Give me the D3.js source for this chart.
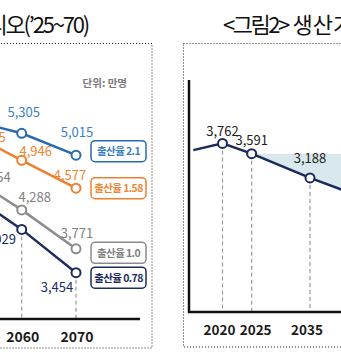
<!DOCTYPE html>
<html>
<head>
<meta charset="utf-8">
<script src="https://cdn.jsdelivr.net/npm/d3@7"></script>
<style>
    html, body { margin: 0; padding: 0; background: #fff; }
    svg { display: block; }
    text { font-family: 'Noto Sans CJK KR', 'Noto Sans', sans-serif; }
</style>
</head>
<body>
<svg id="main" width="341" height="360"></svg>
<script>
const width = 341;
const height = 360;

// 왼쪽: 출산율 시나리오별 총인구 (만명)
const leftYears = [2050, 2060, 2070];
const birthRates = ['2.1', '1.58', '1.0', '0.78'];
const popTfr21 = [5490, 5305, 5015];
const popTfr158 = [5325, 4946, 4577];
const popTfr10 = [4754, 4288, 3771];
const popTfr078 = [4525, 4029, 3454];

// 오른쪽: 생산가능인구 (만명)
const workYears = [2015, 2020, 2025, 2035, 2045];
const workPop = [3650, 3762, 3591, 3188, 2830];
const workTicks = [2020, 2025, 2035];

const leftTitle = '<그림1> 출산율 시나리오(\u201925~70)';
const rightTitleHead = '<그림2>';
const rightTitleBody = ' 생산가능인구 전망';
const unitText = '단위: 만명';

const seriesColor = ['#2a6bad', '#ee7f2d', '#8c8c8c', '#1d2c5e'];
const labelColor = ['#3b80c2', '#ef8632', '#808080', '#1d2c5e'];
// label offsets per point (dx, dy)
const labelOffset = [
    [[2, -16], [2, -16], [1, -18]],
    [[22, 10], [14, -4], [-6, -8]],
    [[27, 7], [13, -8], [1, -11]],
    [[-22, 15], [-22, 15], [-19, 19]]
];
const boxOffset = [-4, 0, 4, 5];

const fmt = d3.format(',');
const svg = d3.select('#main');
svg.append('rect').attr('width', width).attr('height', height).attr('fill', '#fff');

// ---------- left panel ----------
const left = svg.append('g');
const xLeft = d3.scaleLinear().domain([2060, 2070]).range([21.7, 76]);
const yLeft = d3.scaleLinear().domain([3454, 5305]).range([272.7, 133.3]);
const axisLeftY = 319;

left.append('text')
    .attr('x', 88).attr('y', 33)
    .attr('text-anchor', 'end')
    .attr('font-size', 22)
    .attr('letter-spacing', -2.2)
    .attr('fill', '#111')
    .text(leftTitle);

left.append('rect')
    .attr('x', -20).attr('y', 43.5)
    .attr('width', 172).attr('height', 304.5)
    .attr('fill', 'none')
    .attr('stroke', '#222')
    .attr('stroke-dasharray', '1,2');

left.append('text')
    .attr('x', 127).attr('y', 87)
    .attr('text-anchor', 'end')
    .attr('font-size', 10.5)
    .attr('font-weight', 'bold')
    .attr('fill', '#7a7a7a')
    .text(unitText);

const leftSeries = [popTfr21, popTfr158, popTfr10, popTfr078].map((vals, i) => ({
    rate: birthRates[i],
    color: seriesColor[i],
    labelColor: labelColor[i],
    points: vals.map((v, j) => ({ year: leftYears[j], value: v, off: labelOffset[i][j] }))
}));

// dashed drop lines from lowest scenario
left.selectAll('.drop')
    .data(leftYears.slice(1))
    .join('line')
    .attr('class', 'drop')
    .attr('x1', d => xLeft(d)).attr('x2', d => xLeft(d))
    .attr('y1', (d, i) => yLeft(popTfr078[i + 1]))
    .attr('y2', axisLeftY)
    .attr('stroke', '#9a9a9a')
    .attr('stroke-width', 1.2)
    .attr('stroke-dasharray', '4,3');

left.append('line')
    .attr('x1', -5).attr('x2', 140)
    .attr('y1', axisLeftY).attr('y2', axisLeftY)
    .attr('stroke', '#111').attr('stroke-width', 2.5);

const lineLeft = d3.line().x(d => xLeft(d.year)).y(d => yLeft(d.value));
const sg = left.selectAll('.series').data(leftSeries).join('g').attr('class', 'series');
sg.append('path')
    .attr('d', d => lineLeft(d.points))
    .attr('fill', 'none')
    .attr('stroke', d => d.color)
    .attr('stroke-width', 2.5);
sg.selectAll('circle')
    .data(d => d.points.slice(1).map(p => ({ ...p, color: d.color })))
    .join('circle')
    .attr('cx', d => xLeft(d.year)).attr('cy', d => yLeft(d.value))
    .attr('r', 4.5)
    .attr('fill', '#fff')
    .attr('stroke', d => d.color)
    .attr('stroke-width', 2);
sg.selectAll('.val')
    .data(d => d.points.map(p => ({ ...p, color: d.labelColor })))
    .join('text')
    .attr('class', 'val')
    .attr('x', d => xLeft(d.year) + d.off[0])
    .attr('y', d => yLeft(d.value) + d.off[1])
    .attr('text-anchor', 'middle')
    .attr('font-size', 13)
    .attr('fill', d => d.color)
    .text(d => fmt(d.value));

// legend boxes
const box = sg.append('g')
    .attr('transform', (d, i) => `translate(${xLeft(2070) + 42.5}, ${yLeft(d.points[2].value) + boxOffset[i]})`);
box.append('rect')
    .attr('x', -27.5).attr('y', -10.5)
    .attr('width', 55).attr('height', 21)
    .attr('rx', 4)
    .attr('fill', '#fff')
    .attr('stroke', d => d.color)
    .attr('stroke-width', 1.5);
box.append('text')
    .attr('y', 4)
    .attr('text-anchor', 'middle')
    .attr('font-size', 10.5)
    .attr('font-weight', 'bold')
    .attr('letter-spacing', -0.6)
    .attr('fill', d => d.labelColor)
    .text(d => `출산율 ${d.rate}`);

left.selectAll('.xlab')
    .data(leftYears.slice(1))
    .join('text')
    .attr('class', 'xlab')
    .attr('x', d => xLeft(d) + 1)
    .attr('y', 342)
    .attr('text-anchor', 'middle')
    .attr('font-size', 14)
    .attr('font-weight', 'bold')
    .attr('fill', '#1a1a1a')
    .text(d => d);

// ---------- right panel ----------
const right = svg.append('g');
const xRight = d3.scaleLinear().domain([2020, 2035]).range([222.5, 310]);
const yRight = d3.scaleLinear().domain([3188, 3762]).range([177.9, 143.4]);
const axisRightY = 312;
const axisRightX = 189;

const rt = right.append('text')
    .attr('x', 223).attr('y', 33)
    .attr('font-size', 22)
    .attr('fill', '#111');
rt.append('tspan').attr('letter-spacing', -2.5).text(rightTitleHead);
rt.append('tspan').text(rightTitleBody);

right.append('rect')
    .attr('x', 183.5).attr('y', 43.5)
    .attr('width', 200).attr('height', 303.5)
    .attr('fill', 'none')
    .attr('stroke', '#222')
    .attr('stroke-dasharray', '1,2');

const workData = workYears.map((y, i) => ({ year: y, value: workPop[i] }));
const shade = workData.filter(d => d.year >= 2025);
right.append('path')
    .attr('d', d3.area()
        .x(d => xRight(d.year))
        .y0(yRight(workPop[workYears.indexOf(2025)]))
        .y1(d => yRight(d.value))(shade))
    .attr('fill', '#d9e8ed');

right.selectAll('.drop')
    .data(workData.filter(d => workTicks.includes(d.year)))
    .join('line')
    .attr('class', 'drop')
    .attr('x1', d => xRight(d.year)).attr('x2', d => xRight(d.year))
    .attr('y1', d => yRight(d.value)).attr('y2', axisRightY)
    .attr('stroke', '#9a9a9a')
    .attr('stroke-width', 1.2)
    .attr('stroke-dasharray', '4,3');

right.append('path')
    .attr('d', d3.line().x(d => xRight(d.year)).y(d => yRight(d.value))(workData))
    .attr('fill', 'none')
    .attr('stroke', '#1b2a5a')
    .attr('stroke-width', 2.5);

right.append('path')
    .attr('d', `M${axisRightX},80V${axisRightY}H350`)
    .attr('fill', 'none')
    .attr('stroke', '#111')
    .attr('stroke-width', 2.5);

const marked = workData.filter(d => workTicks.includes(d.year));
right.selectAll('circle')
    .data(marked)
    .join('circle')
    .attr('cx', d => xRight(d.year)).attr('cy', d => yRight(d.value))
    .attr('r', 4.5)
    .attr('fill', '#fff')
    .attr('stroke', '#1b2a5a')
    .attr('stroke-width', 2);

const workLabelDy = [-7, -9, -15];
right.selectAll('.val')
    .data(marked)
    .join('text')
    .attr('class', 'val')
    .attr('x', d => xRight(d.year))
    .attr('y', (d, i) => yRight(d.value) + workLabelDy[i])
    .attr('text-anchor', 'middle')
    .attr('font-size', 13)
    .attr('fill', '#222')
    .text(d => fmt(d.value));

const tickDx = [-3, 4, -3];
right.selectAll('.xlab')
    .data(workTicks)
    .join('text')
    .attr('class', 'xlab')
    .attr('x', (d, i) => xRight(d) + tickDx[i])
    .attr('y', 335)
    .attr('text-anchor', 'middle')
    .attr('font-size', 13.5)
    .attr('font-weight', 'bold')
    .attr('fill', '#1a1a1a')
    .text(d => d);
</script>
</body>
</html>
